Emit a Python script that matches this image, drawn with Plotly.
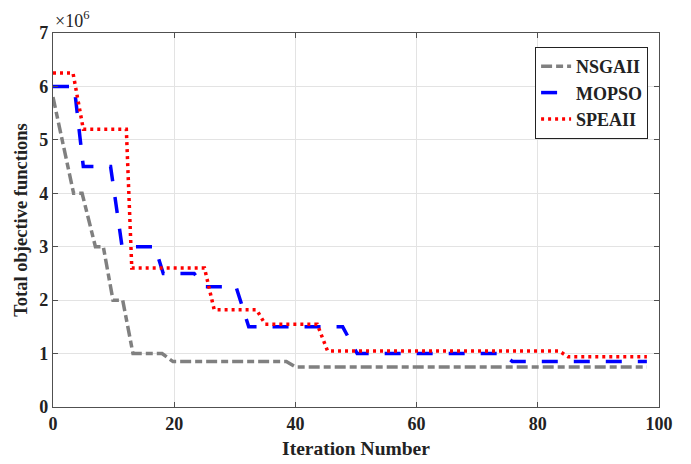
import plotly.graph_objects as go

# Iteration vertices and objective values (x 10^6)
nsga_x = [0, 3.4, 4.8, 7.0, 8.3, 9.9, 11.5, 13.2, 18.0, 19.8, 38.5, 40.0, 98]
nsga_y = [5.8, 4.0, 4.0, 3.0, 3.0, 2.0, 2.0, 1.0, 1.0, 0.85, 0.85, 0.75, 0.75]

mopso_x = [0, 3.5, 5.0, 9.5, 11.4, 16.8, 18.2, 23.3, 25.0, 30.2, 32.3, 47.8, 50.2, 74.2, 75.8, 98]
mopso_y = [6.0, 6.0, 4.5, 4.5, 3.0, 3.0, 2.5, 2.5, 2.25, 2.25, 1.5, 1.5, 1.0, 1.0, 0.85, 0.85]

spea_x = [0, 3.3, 5.0, 12.1, 13.0, 25.0, 26.6, 33.6, 35.0, 43.6, 45.3, 83.5, 85.0, 98]
spea_y = [6.25, 6.25, 5.2, 5.2, 2.6, 2.6, 1.82, 1.82, 1.55, 1.55, 1.05, 1.05, 0.94, 0.94]

x_ticks = [0, 20, 40, 60, 80, 100]
y_ticks = [0, 1, 2, 3, 4, 5, 6, 7]

serif = "Liberation Serif, Times New Roman, serif"
ink = "#222222"

fig = go.Figure()
fig.add_trace(go.Scatter(x=nsga_x, y=nsga_y, mode="lines", name="<b>NSGAII</b>",
                         line=dict(color="#808080", width=3.5, dash="11px,4px,7px,4px")))
fig.add_trace(go.Scatter(x=mopso_x, y=mopso_y, mode="lines", name="<b>MOPSO</b>",
                         line=dict(color="#0000FF", width=3.5, dash="16px,16px")))
fig.add_trace(go.Scatter(x=spea_x, y=spea_y, mode="lines", name="<b>SPEAII</b>",
                         line=dict(color="#FF0000", width=3.5, dash="3px,4px")))

axis_common = dict(
    showline=True, mirror="allticks", linecolor="#505050", linewidth=1.2,
    ticks="inside", ticklen=5, tickcolor="#505050", tickwidth=1,
    showgrid=True, gridcolor="#e3e3e3", gridwidth=1, zeroline=False,
    automargin=False,
    tickfont=dict(family=serif, size=18, color=ink),
)

# the page body adds an 8px offset, so margins are compensated
fig.update_layout(
    width=691, height=464,
    margin=dict(l=45, r=40, t=25, b=65),
    paper_bgcolor="white", plot_bgcolor="white",
    font=dict(family=serif, color=ink),
    showlegend=True,
    legend=dict(x=0.982, y=0.9626, xanchor="right", yanchor="top",
                bgcolor="white", bordercolor=ink, borderwidth=1,
                font=dict(family=serif, size=18, color=ink),
                itemwidth=30, tracegroupgap=0),
    xaxis=dict(range=[0, 100], tickvals=x_ticks, ticktext=[f"<b>{v}</b>" for v in x_ticks],
               title=dict(text="<b>Iteration Number</b>", font=dict(family=serif, size=19.5, color=ink),
                          standoff=8),
               **axis_common),
    yaxis=dict(range=[0, 7], tickvals=y_ticks, ticktext=[f"<b>{v}</b>" for v in y_ticks],
               title=dict(text="<b>Total objective functions</b>", font=dict(family=serif, size=18.5, color=ink),
                          standoff=6),
               **axis_common),
)

fig.add_annotation(x=0, xref="paper", y=1, yref="paper", xanchor="left", yanchor="bottom",
                   text="×10<sup>6</sup>", showarrow=False, yshift=0,
                   font=dict(family=serif, size=18, color=ink))

fig.write_html("out.html")
